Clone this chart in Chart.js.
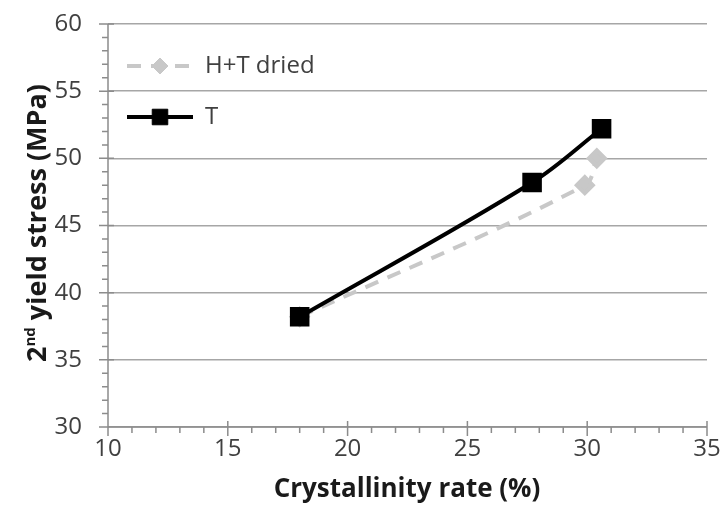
<!DOCTYPE html>
<html>
<head>
<meta charset="utf-8">
<script src="https://cdn.jsdelivr.net/npm/chart.js@4.4.1/dist/chart.umd.min.js"></script>
<style>
  html, body { margin: 0; padding: 0; background: #fff; }
  #wrap { width: 722px; height: 510px; }
</style>
</head>
<body>
<div id="wrap"><canvas id="chart" width="722" height="510"></canvas></div>
<script>
// data
var seriesNames = ['T', 'H+T dried'];
var tX = [18.0, 27.7, 30.6];
var tY = [38.2, 48.2, 52.2];
var htX = [18.0, 29.9, 30.4];
var htY = [38.2, 48.0, 50.0];
var xTicks = [10, 15, 20, 25, 30, 35];
var yTicks = [30, 35, 40, 45, 50, 55, 60];

function pts(xs, ys) {
    return xs.map(function (x, i) { return { x: x, y: ys[i] }; });
}

var labelFont = "'Open Sans', 'DejaVu Sans', sans-serif";

// axis lines, crossing major ticks, minor ticks, titles, legend
var axesPlugin = {
    id: 'axesPlugin',
    afterDraw: function (chart) {
        var ctx = chart.ctx;
        var xs = chart.scales.x, ys = chart.scales.y;
        var a = chart.chartArea;
        ctx.save();
        ctx.strokeStyle = '#8c8c8c';
        ctx.lineWidth = 1.5;
        ctx.beginPath();
        ctx.moveTo(a.left, a.top); ctx.lineTo(a.left, a.bottom);
        ctx.moveTo(a.left, a.bottom); ctx.lineTo(a.right, a.bottom);
        for (var v = 30; v <= 60; v++) {
            var py = ys.getPixelForValue(v);
            if (v % 5 === 0) { ctx.moveTo(a.left - 9, py); ctx.lineTo(a.left + 6, py); }
            else { ctx.moveTo(a.left - 6, py); ctx.lineTo(a.left, py); }
        }
        for (var u = 10; u <= 35; u++) {
            var px = xs.getPixelForValue(u);
            if (u % 5 === 0) { ctx.moveTo(px, a.bottom - 6); ctx.lineTo(px, a.bottom + 9); }
            else { ctx.moveTo(px, a.bottom); ctx.lineTo(px, a.bottom + 6); }
        }
        ctx.stroke();

        // axis titles
        ctx.fillStyle = '#1a1a1a';
        ctx.textBaseline = 'middle';
        ctx.textAlign = 'center';
        ctx.font = "bold 26px " + labelFont;
        ctx.fillText('Crystallinity rate (%)', 407, 490);

        ctx.translate(38, 223);
        ctx.rotate(-Math.PI / 2);
        var big = "bold 27px " + labelFont, small = "bold 15px " + labelFont;
        ctx.font = big; var w1 = ctx.measureText('2').width;
        var w3 = ctx.measureText(' yield stress (MPa)').width;
        ctx.font = small; var w2 = ctx.measureText('nd').width;
        var x0 = -(w1 + w2 + w3) / 2;
        ctx.textAlign = 'left';
        ctx.font = big; ctx.fillText('2', x0, 0);
        ctx.font = small; ctx.fillText('nd', x0 + w1, -7);
        ctx.font = big; ctx.fillText(' yield stress (MPa)', x0 + w1 + w2, 0);
        ctx.restore();

        // legend inside the plot
        ctx.save();
        var items = [
            { ds: chart.data.datasets[1], y: 66 },
            { ds: chart.data.datasets[0], y: 117 }
        ];
        items.forEach(function (it) {
            var d = it.ds;
            ctx.strokeStyle = d.borderColor;
            ctx.lineWidth = d.borderWidth;
            ctx.setLineDash(d.borderDash || []);
            ctx.beginPath(); ctx.moveTo(127, it.y); ctx.lineTo(193, it.y); ctx.stroke();
            ctx.setLineDash([]);
            ctx.fillStyle = d.pointBackgroundColor;
            ctx.strokeStyle = d.pointBorderColor;
            ctx.lineWidth = 1;
            Chart.helpers.drawPoint(ctx, {
                pointStyle: d.pointStyle, radius: d.pointRadius, borderWidth: 1, rotation: 0
            }, 160, it.y);
            ctx.fillStyle = '#404040';
            ctx.font = "24px " + labelFont;
            ctx.textAlign = 'left';
            ctx.textBaseline = 'middle';
            ctx.fillText(d.label, 205, it.y);
        });
        ctx.restore();
    }
};

var ctx = document.getElementById('chart').getContext('2d');
var chart = new Chart(ctx, {
    type: 'scatter',
    data: {
        datasets: [{
            label: seriesNames[0],
            data: pts(tX, tY),
            showLine: true,
            borderColor: '#000000',
            borderWidth: 4,
            tension: 0.35,
            pointStyle: 'rect',
            pointRadius: 11,
            pointHoverRadius: 11,
            pointBackgroundColor: '#000000',
            pointBorderColor: '#000000'
        }, {
            label: seriesNames[1],
            data: pts(htX, htY),
            showLine: true,
            borderColor: '#c8c8c8',
            borderWidth: 4,
            borderDash: [14, 10],
            tension: 0.35,
            pointStyle: 'rectRot',
            pointRadius: 8,
            pointHoverRadius: 8,
            pointBackgroundColor: '#c8c8c8',
            pointBorderColor: '#c8c8c8'
        }]
    },
    options: {
        responsive: false,
        animation: false,
        events: [],
        layout: { padding: { top: 24, right: 14, left: 0, bottom: 0 } },
        plugins: { legend: { display: false }, tooltip: { enabled: false } },
        scales: {
            x: {
                type: 'linear', min: 10, max: 35,
                afterBuildTicks: function (s) { s.ticks = xTicks.map(function (v) { return { value: v }; }); },
                afterFit: function (s) { s.height = 83; s.paddingLeft = 0; s.paddingRight = 0; },
                grid: { display: false, drawTicks: false },
                border: { display: false },
                ticks: { color: '#404040', font: { size: 24, family: labelFont }, padding: 8 }
            },
            y: {
                type: 'linear', min: 30, max: 60,
                afterBuildTicks: function (s) { s.ticks = yTicks.map(function (v) { return { value: v }; }); },
                afterFit: function (s) { s.width = 108; s.paddingTop = 0; s.paddingBottom = 0; },
                grid: { color: '#a6a6a6', lineWidth: 1.5, drawTicks: false },
                border: { display: false },
                ticks: { color: '#404040', font: { size: 24, family: labelFont }, padding: 26 }
            }
        }
    },
    plugins: [axesPlugin]
});
</script>
</body>
</html>
